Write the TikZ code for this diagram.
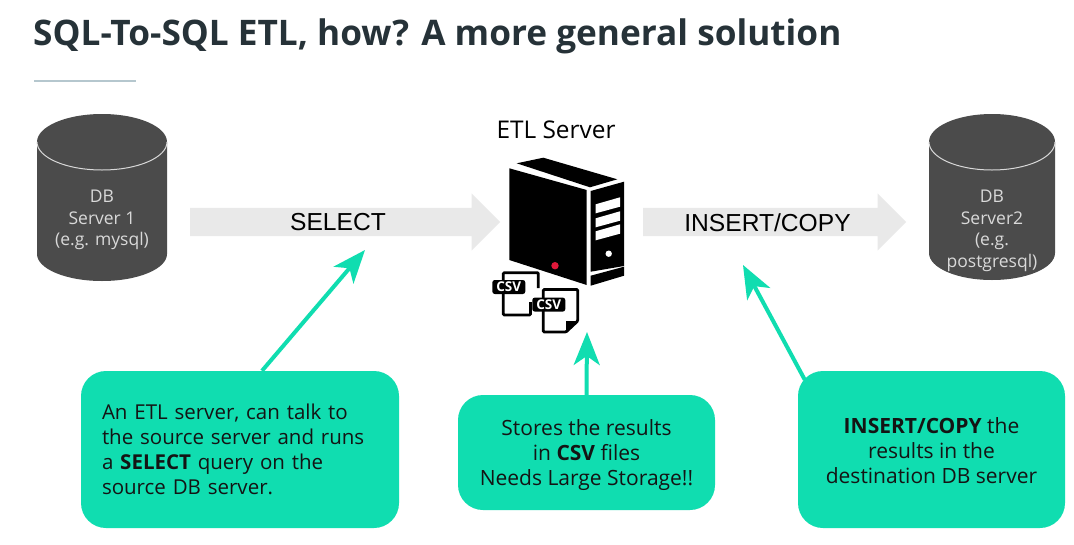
\documentclass[tikz,border=0pt]{standalone}
\usepackage{fontspec}
\setmainfont{Open Sans}
\newfontfamily\arialfont{Liberation Sans}
\usetikzlibrary{shapes,shapes.arrows,arrows.meta,positioning}
\definecolor{tealbox}{HTML}{10DDB0}
\definecolor{titleink}{HTML}{263238}
\definecolor{dbgrey}{HTML}{4B4B4B}
\definecolor{bargrey}{HTML}{E9E9E9}
\definecolor{ruleblue}{HTML}{B5C7CE}
\definecolor{ledred}{HTML}{E0183A}
\tikzset{
  titlenode/.style = {anchor=west, inner sep=0pt, text=titleink,
    font=\fontsize{35.2}{40}\selectfont\bfseries},
  db_text/.style = {align=center, inner sep=0pt, text=white!85!black,
    font=\fontsize{17.5}{21.7}\selectfont},
  flow_bar/.style = {single arrow, fill=bargrey, inner xsep=0pt, inner ysep=0pt,
    text height=28pt, text depth=0pt, single arrow head extend=14.5pt,
    single arrow head indent=0pt, minimum width=57pt, anchor=west},
  bar_text/.style = {inner sep=0pt, font=\arialfont\fontsize{24.6}{26}\selectfont},
  note_box/.style = {rectangle, rounded corners=25pt, fill=tealbox, inner sep=0pt,
    align=center, font=\fontsize{21}{25}\selectfont, text=black!92},
  note_text/.style = {inner sep=0pt, align=center, font=\fontsize{21}{25}\selectfont, text=black!92},
  note_arrow/.style = {-{Stealth[length=33pt,width=26pt,inset=9pt]}, tealbox, line width=4pt},
  csv_tag/.style = {rectangle, rounded corners=2.5pt, fill=black, text=white, inner sep=0pt,
    minimum width=33pt, minimum height=14pt, font=\fontsize{13.5}{14}\selectfont\bfseries},
  csv_line/.style = {line width=2.8pt, black, rounded corners=1pt}
}
\begin{document}
\begin{tikzpicture}[x=1pt,y=-1pt]
  \useasboundingbox (0,0) rectangle (1074,544);
  \fill[white] (0,0) rectangle (1074,544);

  \node [titlenode](title) at (33,36){SQL-To-SQL ETL, how? A more general solution};
  \draw [color=ruleblue, line width=2pt] (34,81) -- (136,81);

  % left db
  \fill [dbgrey] (37,142) -- (37,254) arc [x radius=65, y radius=27, start angle=180, end angle=0] -- (167,142) arc [x radius=65, y radius=28, start angle=0, end angle=-180] -- cycle;
  \draw [white!85!black, line width=1pt] (37,142) arc [x radius=65, y radius=28, start angle=180, end angle=0];
  \node [db_text](dbone) at (102,220){DB\\Server 1\\(e.g. mysql)};

  % right db
  \fill [dbgrey] (929,142) -- (929,253) arc [x radius=63, y radius=27, start angle=180, end angle=0] -- (1055,142) arc [x radius=63, y radius=28, start angle=0, end angle=-180] -- cycle;
  \draw [white!85!black, line width=1pt] (929,142) arc [x radius=63, y radius=28, start angle=180, end angle=0];
  \node [db_text](dbtwo) at (992,231){DB\\Server2\\(e.g.\\postgresql)};

  % flow bars
  \node [flow_bar, minimum height=310pt](selectbar) at (190,222){};
  \node [bar_text](selecttext) at (338,222.5){SELECT};
  \node [flow_bar, minimum height=263pt](insertbar) at (643,222){};
  \node [bar_text](inserttext) at (767.5,222.5){INSERT/COPY};

  % server
  \node [inner sep=0pt, font=\fontsize{24.4}{26}\selectfont](etl) at (556,130){ETL Server};
  \fill (509.3,168.3) -- (586.7,190) -- (586.7,285) -- (509.3,260) -- cycle;
  \fill (516.7,163.3) -- (543.3,157.7) -- (617.3,179.3) -- (590,187.3) -- cycle;
  \fill (590.7,191) -- (624,181.7) -- (624,266) -- (590.7,271.7) -- cycle;
  \fill (590.7,275.7) -- (624,266.7) -- (624,275.7) -- (590.7,285.7) -- cycle;
  \foreach \y in {0,14,27}{
    \fill [white] (595.7,204.3+\y) -- (620,197.3+\y) -- (620,206.7+\y) -- (595.7,213.3+\y) -- cycle;
  }
  \fill [white] (608.7,253.7) circle (3.2);
  \fill [ledred] (555,265.7) circle (3.7);

  % csv files
  \draw [csv_line] (503.3,282) -- (503.3,272.7) -- (538.3,272.7) -- (538.3,288);
  \draw [csv_line] (503.3,293) -- (503.3,315) -- (530.5,315) -- (530.5,302);
  \node [csv_tag](csvone) at (508.8,287){CSV};
  \draw [csv_line] (543.3,298) -- (543.3,289.5) -- (577.7,289.5) -- (577.7,321) -- (566,332) -- (543.3,332) -- (543.3,311);
  \fill (577.7,321) -- (566,332) -- (566,321) -- cycle;
  \node [csv_tag](csvtwo) at (548.8,304.6){CSV};

  % notes
  \node [note_box, font=\fontsize{20.5}{25}\selectfont, minimum width=318pt, minimum height=157pt, text width=276pt, align=left](selectnote) at (240,449.5){An ETL server, can talk to\\the source server and runs\\a \textbf{SELECT} query on the\\source DB server.};
  \node [note_box, minimum width=257pt, minimum height=115pt](csvnote) at (586.5,452.5){};
  \node [note_text](csvtext) at (586.5,455){Stores the results\\in \textbf{CSV} files\\Needs Large Storage!!};
  \node [note_box, minimum width=267pt, minimum height=157pt](insertnote) at (931.5,449.5){};
  \node [note_text](inserttext2) at (931.5,450.5){\textbf{INSERT/COPY} the\\results in the\\destination DB server};

  \coordinate (selecttip) at (365,250);
  \coordinate (csvtip) at (587,332);
  \coordinate (inserttip) at (743,265);

  \draw [note_arrow] ([xshift=22pt]selectnote.north) -- (selecttip);
  \draw [note_arrow] (csvnote.north) -- (csvtip);
  \draw [note_arrow] ([xshift=7pt,yshift=-9pt]insertnote.north west) -- (inserttip);
\end{tikzpicture}
\end{document}
